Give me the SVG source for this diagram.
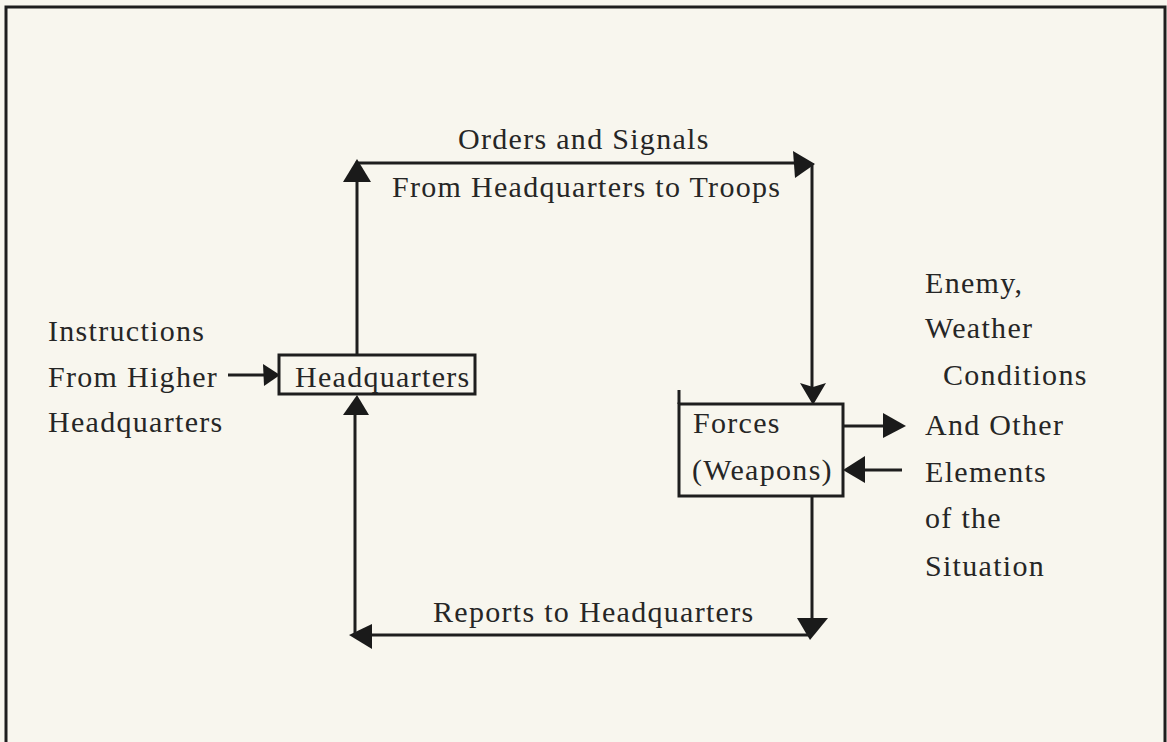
<svg xmlns="http://www.w3.org/2000/svg" width="1167" height="742" viewBox="0 0 1167 742">
<style>
text{font-family:"Liberation Serif","Times New Roman",serif;font-size:30px;letter-spacing:1.3px;fill:#262626}
.ln{stroke:#1e1e1e;stroke-width:3;fill:none}
.box{stroke:#1e1e1e;stroke-width:3;fill:none}
.ah{fill:#1a1a1a}
</style>
<rect width="1167" height="742" fill="#f8f6ee"/>
<path class="ln" d="M6,742 V7 H1165 V742"/>
<g id="connectors">
<path class="ln" d="M357,355 V163 H800"/>
<polygon class="ah" points="357,159 371,182 343,182"/>
<polygon class="ah" points="793,151 815,164 795,178"/>
<path class="ln" d="M812,163 V390"/>
<polygon class="ah" points="800,383 813,387 826,383 813,405"/>
<path class="ln" d="M812,496 V622"/>
<polygon class="ah" points="797,618 828,618 810,640"/>
<path class="ln" d="M810,635 H368"/>
<polygon class="ah" points="349,635 372,624 372,649"/>
<path class="ln" d="M355,635 V412"/>
<polygon class="ah" points="357,395 369,415 343,415"/>
<path class="ln" d="M228,375 H266"/>
<polygon class="ah" points="280,375 263,364 264,386"/>
<path class="ln" d="M843,426 H886"/>
<polygon class="ah" points="906,426 883,413 883,438"/>
<path class="ln" d="M902,470 H862"/>
<polygon class="ah" points="843,470 865,456 865,483"/>
</g>
<g id="headquarters">
<rect class="box" x="279" y="355" width="196" height="39"/>
<text x="295" y="387">Headquarters</text>
</g>
<g id="forces">
<path class="ln" d="M679,390 V404"/>
<rect class="box" x="679" y="404" width="164" height="92"/>
<text x="693" y="433">Forces</text>
<text x="692" y="480">(Weapons)</text>
</g>
<g id="labels">
<text x="458" y="149">Orders and Signals</text>
<text x="392" y="197">From Headquarters to Troops</text>
<text x="433" y="622">Reports to Headquarters</text>
<text x="48" y="341">Instructions</text>
<text x="48" y="387">From Higher</text>
<text x="48" y="432">Headquarters</text>
<text x="925" y="293">Enemy,</text>
<text x="925" y="338">Weather</text>
<text x="943" y="385">Conditions</text>
<text x="925" y="435">And Other</text>
<text x="925" y="482">Elements</text>
<text x="925" y="528">of the</text>
<text x="925" y="576">Situation</text>
</g>
</svg>
